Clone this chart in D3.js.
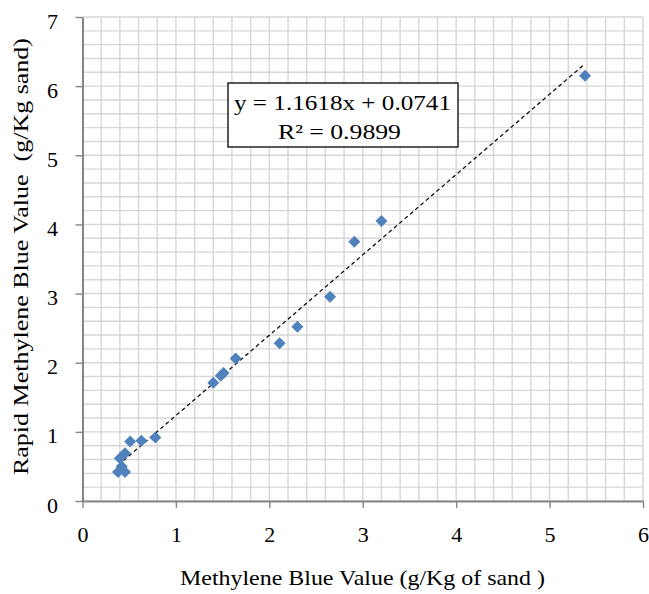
<!DOCTYPE html>
<html><head><meta charset="utf-8">
<script src="https://cdn.jsdelivr.net/npm/d3@7"></script>
<style>body{margin:0;background:#fff}svg{display:block}text{white-space:pre}</style>
</head><body>
<svg id="c" width="649" height="594"></svg>
<script>
const xValues = [5.38, 3.20, 2.91, 2.65, 2.30, 2.11, 1.64, 1.51, 1.48, 1.40, 0.78, 0.63, 0.51, 0.455, 0.40, 0.455, 0.38, 0.42];
const yValues = [6.15, 4.05, 3.75, 2.955, 2.52, 2.28, 2.06, 1.85, 1.81, 1.71, 0.92, 0.87, 0.86, 0.69, 0.62, 0.42, 0.42, 0.50];
const xTicks = [0, 1, 2, 3, 4, 5, 6];
const yTicks = [0, 1, 2, 3, 4, 5, 6, 7];
const slope = 1.1618, intercept = 0.0741;
const eqLines = ["y = 1.1618x + 0.0741", "R² = 0.9899"];
const xTitle = "Methylene Blue Value (g/Kg of sand )";
const yTitle = "Rapid Methylene Blue Value  (g/Kg sand)";

const svg = d3.select("#c");
const L = 82.5, R = 643, T = 17, B = 501;
const x = d3.scaleLinear().domain([0, 6]).range([L, R]);
const y = d3.scaleLinear().domain([0, 7]).range([B, T]);
const font = "'Liberation Serif', 'Times New Roman', serif";

// grid
const g = svg.append("g");
d3.range(0, 6.0001, 0.2).forEach(v => {
  g.append("line").attr("x1", x(v)).attr("x2", x(v)).attr("y1", T).attr("y2", B)
    .attr("stroke", "#d6d6d6").attr("stroke-width", 1.4);
});
d3.range(0, 7.0001, 0.2).forEach(v => {
  g.append("line").attr("y1", y(v)).attr("y2", y(v)).attr("x1", L).attr("x2", R)
    .attr("stroke", "#d6d6d6").attr("stroke-width", 1.4);
});

// axes
const xAxis = svg.append("g").attr("transform", `translate(0,${B})`)
  .call(d3.axisBottom(x).tickValues(xTicks).tickFormat(d3.format("d")).tickSize(7).tickSizeOuter(0));
const yAxis = svg.append("g").attr("transform", `translate(${L},0)`)
  .call(d3.axisLeft(y).tickValues(yTicks).tickFormat(d3.format("d")).tickSize(7).tickSizeOuter(0).tickPadding(17.5));
[xAxis, yAxis].forEach(a => {
  a.select(".domain").attr("stroke", "#868686").attr("stroke-width", 2);
  a.selectAll(".tick line").attr("stroke", "#868686").attr("stroke-width", 1.4);
  a.selectAll("text").attr("font-family", font).attr("font-size", 22).attr("fill", "#000");
});
xAxis.selectAll("text").attr("y", 41).attr("dy", 0);
yAxis.selectAll("text").attr("dy", "0.5em");

// trendline
const xmin = d3.min(xValues), xmax = d3.max(xValues);
svg.append("line")
  .attr("x1", x(xmin)).attr("y1", y(slope * xmin + intercept))
  .attr("x2", x(xmax)).attr("y2", y(slope * xmax + intercept))
  .attr("stroke", "#000").attr("stroke-width", 1.2).attr("stroke-dasharray", "4,3");

// points
const pts = xValues.map((v, i) => [v, yValues[i]]);
const r = 6;
svg.append("g").selectAll("path").data(pts).join("path")
  .attr("d", d => `M${x(d[0])},${y(d[1]) - r}L${x(d[0]) + r},${y(d[1])}L${x(d[0])},${y(d[1]) + r}L${x(d[0]) - r},${y(d[1])}Z`)
  .attr("fill", "#4f81bd");

// equation box
svg.append("rect").attr("x", 228).attr("y", 83).attr("width", 230).attr("height", 64)
  .attr("fill", "#fff").attr("stroke", "#000").attr("stroke-width", 1.3);
const eqX = [234, 278], eqW = [217, 123], eqY = [109.5, 138.5];
eqLines.forEach((t, i) => {
  svg.append("text").attr("x", eqX[i]).attr("y", eqY[i])
    .attr("textLength", eqW[i]).attr("lengthAdjust", "spacingAndGlyphs")
    .attr("font-family", font).attr("font-size", 22).text(t);
});

// titles
svg.append("text").attr("x", 180).attr("y", 585)
  .attr("textLength", 365).attr("lengthAdjust", "spacingAndGlyphs")
  .attr("font-family", font).attr("font-size", 22).text(xTitle);
svg.append("text").attr("transform", "translate(28,475) rotate(-90)")
  .attr("textLength", 437).attr("lengthAdjust", "spacingAndGlyphs")
  .attr("font-family", font).attr("font-size", 21).text(yTitle);
</script>
</body></html>
